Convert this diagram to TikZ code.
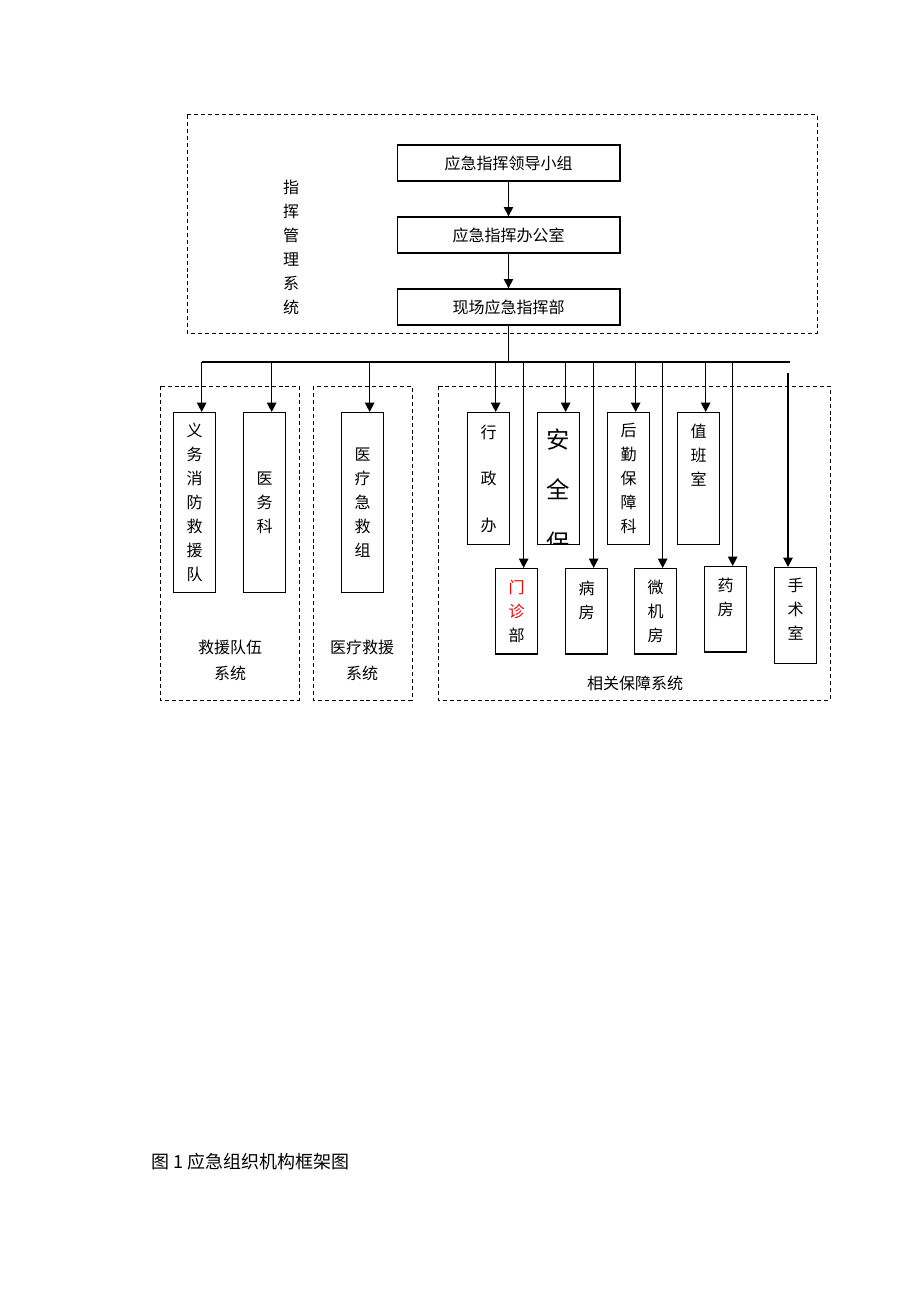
\documentclass[tikz,border=0pt]{standalone}
\usepackage{fontspec}
\setmainfont{Noto Sans CJK SC}
\usetikzlibrary{positioning, arrows.meta}

\tikzset{
  box/.style={draw, line width=1pt, minimum width=167pt, minimum height=27pt, font=\fontsize{12pt}{14pt}\selectfont},
  vbox/.style={draw, line width=1pt, anchor=north west, minimum width=31.5pt, inner sep=0pt, align=center, font=\fontsize{12pt}{18pt}\selectfont},
  dashbox/.style={draw, dash pattern=on 3pt off 2.2pt, line width=0.75pt},
  arr/.style={-{Triangle[length=7pt,width=7pt]}, line width=1.1pt},
  lbl/.style={align=center, font=\fontsize{12pt}{18pt}\selectfont}
}

\begin{document}
\begin{tikzpicture}[x=0.75pt, y=-0.75pt, node distance=54pt, on grid]
    \useasboundingbox (0,0) rectangle (920,1302);

    % command system
    \draw[dashbox] (187,115) rectangle (817,333);
    \node[box] (ld) at (508.5,163) {应急指挥领导小组};
    \node[box] (bgs) [below=of ld] {应急指挥办公室};
    \node[box] (xc) [below=of bgs] {现场应急指挥部};
    \node[lbl] (zhgl) at (291,247.5) {指\\挥\\管\\理\\系\\统};
    \draw[arr] (ld) -- (bgs);
    \draw[arr] (bgs) -- (xc);

    % bus
    \coordinate (busl) at (202,362);
    \coordinate (busr) at (790,362);
    \coordinate (sst) at (788,373);
    \draw[line width=1.1pt] (xc.south) -- (xc.south |- busl);
    \draw[line width=1.1pt] (busl) -- (busr);

    % groups
    \draw[dashbox] (160,386) rectangle (299,700);
    \draw[dashbox] (313,386) rectangle (412,700);
    \draw[dashbox] (438,386) rectangle (830,700);
    \node[lbl, font=\fontsize{12pt}{19.5pt}\selectfont] (jydw) at (230,660) {救援队伍\\系统};
    \node[lbl, font=\fontsize{12pt}{19.5pt}\selectfont] (ylxt) at (362,660) {医疗救援\\系统};
    \node[lbl] (xgbz) at (635,683) {相关保障系统};

    % units
    \node[vbox, minimum height=135pt] (yw) at (173,412) {义\\务\\消\\防\\救\\援\\队};
    \node[vbox, minimum height=135pt] (ywk) at (243,412) {医\\务\\科};
    \node[vbox, minimum height=135pt] (jj) at (341,412) {医\\疗\\急\\救\\组};
    \node[vbox, minimum height=99pt] (xz) at (467,412) {行\\[17pt]政\\[17pt]办};
    \node[vbox, minimum height=99pt] (aq) at (537,412) {};
    \node[vbox, minimum height=99pt] (hq) at (607,412) {后\\勤\\保\\障\\科};
    \node[vbox, minimum height=99pt, text depth=36pt] (zb) at (677,412) {值\\班\\室};
    \node[vbox, minimum height=64pt] (mz) at (495,568) {\textcolor{red}{门}\\\textcolor{red}{诊}\\部};
    \node[vbox, minimum height=64pt, text depth=17pt] (bf) at (565,568) {病\\房};
    \node[vbox, minimum height=64pt] (wj) at (634,568) {微\\机\\房};
    \node[vbox, minimum height=64pt, text depth=19pt] (yf) at (704,566) {药\\房};
    \node[vbox, minimum height=72pt, text depth=11pt] (ss) at (774,567) {手\\术\\室};

    \begin{scope}
      \clip ([yshift=0.75pt]aq.south west) rectangle (aq.north east);
      \node[align=center, font=\fontsize{17.5pt}{37.5pt}\selectfont] (aqt) at (558,491.5) {安\\全\\[2.25pt]保};
    \end{scope}

    \foreach \n in {yw,ywk,jj,xz,aq,hq,zb,mz,bf,wj,yf}
      \draw[arr] ([xshift=5.25pt]\n.north |- busl) -- ([xshift=5.25pt]\n.north);
    \draw[arr] (sst) -- (ss.north -| sst);

    \node[anchor=west, font=\fontsize{13.5pt}{15pt}\selectfont] (cap) at (147,1162) {图 1 应急组织机构框架图};
\end{tikzpicture}
\end{document}
